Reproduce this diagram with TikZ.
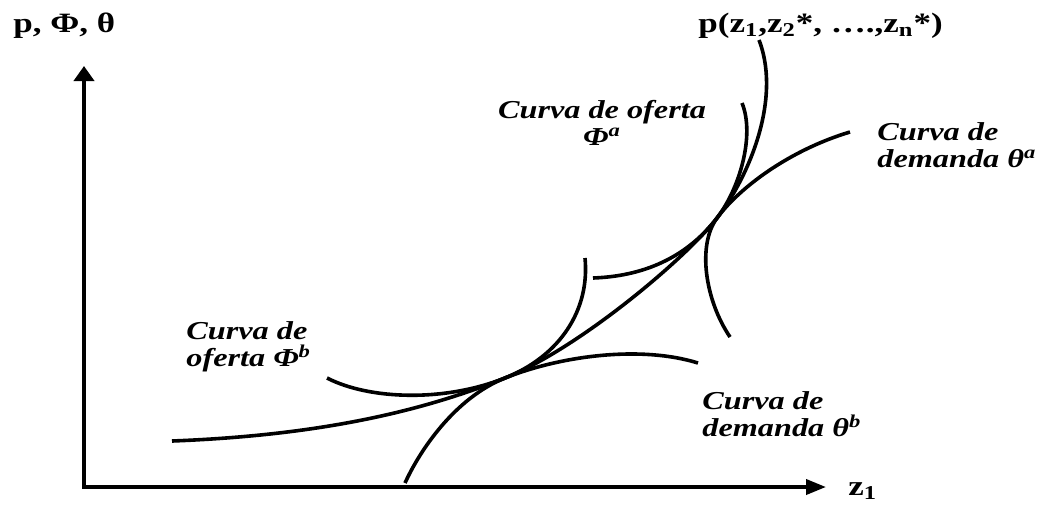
\documentclass[tikz,border=0pt]{standalone}
\usepackage{fontspec}
\setmainfont{Liberation Serif}[FakeStretch=1.25]
\usetikzlibrary{arrows.meta}

\begin{document}
\begin{tikzpicture}[
  x=0.5pt, y=-0.5pt,
  curve/.style={line width=1.8pt},
  axis/.style={line width=1.9pt, {Triangle[length=7.5pt,width=10pt]}-{Triangle[length=10pt,width=7.5pt]}},
  lbl/.style={font=\bfseries\itshape\fontsize{12.9}{13.5}\selectfont, inner sep=0pt, align=left},
  var/.style={font=\bfseries\fontsize{14}{16}\selectfont, inner sep=0pt}
]
\useasboundingbox (0,0) rectangle (1042,504);

% axes
\coordinate (origin) at (84,487);
\coordinate (ytip) at (84,66);
\coordinate (xtip) at (826,487);
\draw[axis] (ytip) -- (origin) -- (xtip);
\node[var, anchor=base west] (ylab) at (13,32) {p, Φ, θ};
\node[var, anchor=base west] (xlab) at (848,495) {z\textsubscript{1}};

% tangency points
\coordinate (Tb) at (505,378);
\coordinate (Ta) at (717,218);

% hedonic price function
\draw[curve] (172,441) .. controls (330,435) and (430,408) .. (Tb)
  .. controls (580,348) and (687,257) .. (Ta)
  .. controls (748,178) and (782,100) .. (759,40);
\node[var, anchor=base west] (plab) at (698,32)
  {p(z\textsubscript{1},z\textsubscript{2}*, \ldots.,z\textsubscript{n}*)};

% offer and demand curves, b
\draw[curve] (327,378) .. controls (370,400) and (445,402) .. (Tb)
  .. controls (560,356) and (590,310) .. (585,258);
\draw[curve] (405,483) .. controls (420,450) and (455,398) .. (Tb)
  .. controls (560,356) and (640,345) .. (698,363);

% offer and demand curves, a
\draw[curve] (593,278) .. controls (650,276) and (690,253) .. (Ta)
  .. controls (740,188) and (755,135) .. (742,103);
\draw[curve] (730,337) .. controls (705,300) and (697,245) .. (Ta)
  .. controls (740,187) and (790,150) .. (850,132);

% labels
\node[lbl, align=center, anchor=north] (offerA) at (602,100) {Curva de oferta\\Φ\textsuperscript{a}};
\node[lbl, anchor=north west] (demandA) at (877,122) {Curva de\\demanda θ\textsuperscript{a}};
\node[lbl, anchor=north west] (offerB) at (186,321) {Curva de\\oferta Φ\textsuperscript{b}};
\node[lbl, anchor=north west] (demandB) at (702,391) {Curva de\\demanda θ\textsuperscript{b}};
\end{tikzpicture}
\end{document}
